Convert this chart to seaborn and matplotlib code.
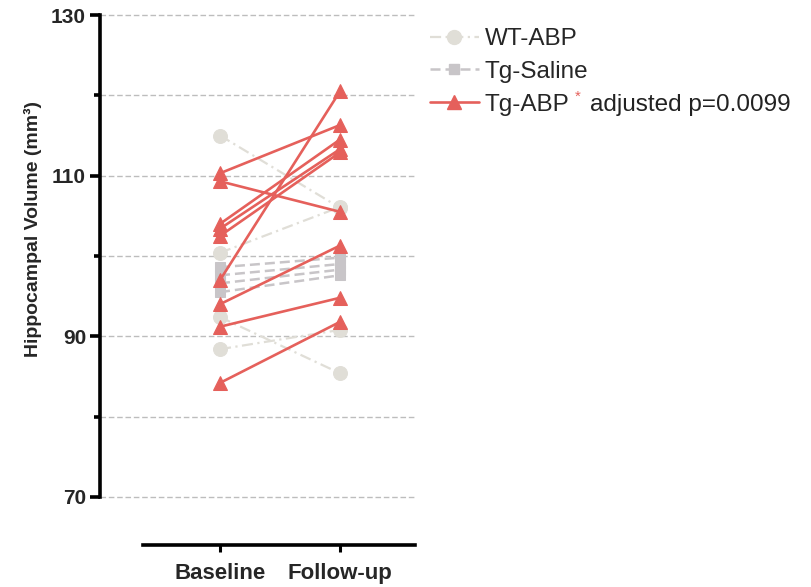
import matplotlib
matplotlib.use("Agg")
import matplotlib.pyplot as plt
from matplotlib.lines import Line2D
import seaborn as sns
import pandas as pd

# ---- data ----
time_labels = ["Baseline", "Follow-up"]
wt_baseline = [115.0, 100.4, 92.4, 88.4]
wt_followup = [106.0, 106.1, 85.4, 90.8]
saline_baseline = [98.6, 97.6, 96.6, 95.5]
saline_followup = [99.8, 99.0, 98.3, 97.6]
tg_baseline = [110.3, 109.3, 104.0, 103.4, 102.5, 97.0, 94.0, 91.2, 84.2]
tg_followup = [116.3, 105.5, 114.5, 113.3, 112.9, 120.5, 101.3, 94.8, 91.8]
group_names = ["WT-ABP", "Tg-Saline", "Tg-ABP"]
y_ticks = [70, 90, 110, 130]
y_minor = [80, 100, 120]

c_wt = "#E0DED7"
c_sal = "#C8C5C8"
c_tg = "#E5605B"

def long_df(base, follow, group):
    rows = []
    for i, (b, f) in enumerate(zip(base, follow)):
        rows.append(dict(group=group, subject=f"{group}-{i}", t=0, vol=b))
        rows.append(dict(group=group, subject=f"{group}-{i}", t=1, vol=f))
    return pd.DataFrame(rows)

df_wt = long_df(wt_baseline, wt_followup, group_names[0])
df_sal = long_df(saline_baseline, saline_followup, group_names[1])
df_tg = long_df(tg_baseline, tg_followup, group_names[2])

sns.set_theme(style="white")
plt.rcParams["font.family"] = ["Liberation Sans", "DejaVu Sans"]

fig = plt.figure(figsize=(8.11, 5.87), dpi=100)
ax = fig.add_axes([100 / 811, 90 / 587, 315 / 811, 482 / 587])

wt_style = dict(color=c_wt, lw=1.6, ls=(0, (5, 2, 1, 2)), marker="o", ms=10,
                mfc=c_wt, mec=c_wt)
sal_style = dict(color=c_sal, lw=1.8, ls=(0, (4, 2)), marker="s", ms=7,
                 mfc=c_sal, mec=c_sal)
tg_style = dict(color=c_tg, lw=1.9, ls="-", marker="^", ms=9.5,
                mfc=c_tg, mec=c_tg)

for d, st in [(df_wt, wt_style), (df_sal, sal_style), (df_tg, tg_style)]:
    sns.lineplot(data=d, x="t", y="vol", units="subject", estimator=None,
                 legend=False, ax=ax, color=st["color"], lw=st["lw"],
                 linestyle=st["ls"], marker=st["marker"], markersize=st["ms"],
                 markerfacecolor=st["mfc"], markeredgecolor=st["mec"],
                 zorder=3)

# spines first (set_position resets tick properties)
for s in ["top", "right"]:
    ax.spines[s].set_visible(False)
ax.spines["bottom"].set_position(("outward", 34.5))
ax.spines["bottom"].set_bounds(-0.642, 1.625)
ax.spines["left"].set_linewidth(2.6)
ax.spines["left"].set_color("black")
ax.spines["bottom"].set_linewidth(2.6)
ax.spines["bottom"].set_color("black")

ax.set_xlim(-1.0, 1.625)
ax.set_ylim(70, 130)
ax.set_yticks(y_ticks)
ax.set_yticks(y_minor, minor=True)
ax.set_yticklabels([str(v) for v in y_ticks], fontsize=15, fontweight="bold")
ax.set_xticks([0, 1])
ax.set_xticklabels(time_labels, fontsize=16, fontweight="bold")

for v in y_ticks + y_minor:
    ax.axhline(v, color="#BDBDBD", lw=1.0, ls=(0, (4, 2)), zorder=1,
               clip_on=False)

ax.set_xlabel("")
ax.set_ylabel("Hippocampal Volume (mm\u00b3)", fontsize=14, fontweight="bold")
ax.yaxis.set_label_coords(-0.184, 0.555)

ax.tick_params(axis="y", which="major", direction="out", length=7, width=2.6,
               color="black", left=True, pad=3)
ax.tick_params(axis="y", which="minor", direction="out", length=4, width=2.6,
               color="black", left=True)
ax.tick_params(axis="x", which="major", direction="out", length=5, width=2.2,
               color="black", bottom=True, pad=8)

handles = [
    Line2D([], [], **wt_style),
    Line2D([], [], **sal_style),
    Line2D([], [], **tg_style),
]
leg = fig.legend(handles, group_names, loc="upper left",
                 bbox_to_anchor=(430 / 811, 1 - 28 / 587),
                 bbox_transform=fig.transFigure, frameon=False,
                 fontsize=17.5, handlelength=2.0, handletextpad=0.25,
                 labelspacing=0.45, borderpad=0, borderaxespad=0)
fig.canvas.draw()
tg_text = leg.get_texts()[2]
ax.annotate("*", xy=(1, 0.85), xycoords=tg_text, xytext=(4, 0),
            textcoords="offset points", color=c_tg, fontsize=11,
            va="center", ha="left", annotation_clip=False)
ax.annotate("adjusted p=0.0099", xy=(1, 0), xycoords=tg_text,
            xytext=(15, 0), textcoords="offset points", color="#222222",
            fontsize=17.5, va="bottom", ha="left", annotation_clip=False)

fig.savefig("out.png", dpi=100)
